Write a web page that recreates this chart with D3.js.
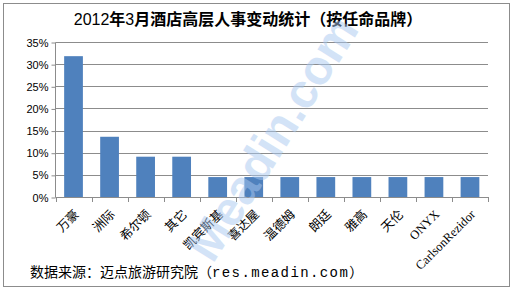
<!DOCTYPE html>
<html>
<head>
    <meta charset="utf-8">
    <title>2012年3月酒店高层人事变动统计</title>
    <script src="https://d3js.org/d3.v7.min.js"></script>
    <style>
        body { margin: 0; background: #fff; }
    </style>
</head>
<body>
    <div id="chart"></div>
    <script>
        // data
        var brands = ["万豪", "洲际", "希尔顿", "其它", "凯宾斯基", "喜达屋", "温德姆", "朗廷", "雅高", "天伦", "ONYX", "CarlsonRezidor"];
        var shares = [0.318, 0.136, 0.091, 0.091, 0.045, 0.045, 0.045, 0.045, 0.045, 0.045, 0.045, 0.045];
        var yTicks = [0, 0.05, 0.10, 0.15, 0.20, 0.25, 0.30, 0.35];

        var width = 514, height = 294;
        // note: "top" is reserved on window, so use plot* names
        var plotLeft = 55.5, plotRight = 488, plotTop = 42, plotBottom = 197;

        var svg = d3.select("#chart").append("svg")
            .attr("width", width)
            .attr("height", height);

        svg.append("rect")
            .attr("x", 3.5).attr("y", 3.5)
            .attr("width", 506).attr("height", 283)
            .attr("fill", "#fff")
            .attr("stroke", "#8c8c8c");

        var x = d3.scaleBand().domain(brands).range([plotLeft, plotRight]).paddingInner(0.48).paddingOuter(0.24);
        var y = d3.scaleLinear().domain([0, 0.35]).range([plotBottom, plotTop]);

        // title
        var title = svg.append("text")
            .attr("x", 248).attr("y", 25)
            .attr("text-anchor", "middle")
            .style("font-family", "'Noto Sans CJK SC', sans-serif")
            .style("font-size", "16px")
            .attr("fill", "#000");
        title.append("tspan").style("font-family", "Arial, 'Liberation Sans'").text("2012");
        title.append("tspan").style("font-weight", "bold").text("年");
        title.append("tspan").style("font-family", "Arial, 'Liberation Sans'").text("3");
        title.append("tspan").style("font-weight", "bold").text("月酒店高层人事变动统计（按任命品牌）");

        // gridlines
        svg.append("g")
            .selectAll("line")
            .data(yTicks.slice(1))
            .enter().append("line")
            .attr("x1", plotLeft).attr("x2", plotRight)
            .attr("y1", function(d) { return Math.round(y(d)) + 0.5; })
            .attr("y2", function(d) { return Math.round(y(d)) + 0.5; })
            .attr("stroke", "#8c8c8c");

        // bars
        svg.append("g")
            .selectAll("rect")
            .data(shares)
            .enter().append("rect")
            .attr("x", function(d, i) { return x(brands[i]); })
            .attr("y", function(d) { return y(d); })
            .attr("width", x.bandwidth())
            .attr("height", function(d) { return plotBottom - y(d); })
            .attr("fill", "#4f81bd");

        // y axis
        var yAxis = svg.append("g")
            .attr("transform", "translate(" + plotLeft + ",0.5)")
            .call(d3.axisLeft(y).tickValues(yTicks).tickFormat(d3.format(".0%")).tickSize(4).tickPadding(3));
        yAxis.select(".domain").attr("stroke", "#8c8c8c").attr("d", "M0," + plotTop + "V" + plotBottom);
        yAxis.selectAll(".tick line").attr("stroke", "#8c8c8c");
        yAxis.selectAll("text")
            .style("font-family", "Arial, 'Liberation Sans'")
            .style("font-size", "11px")
            .attr("fill", "#000");

        // x axis with ticks between categories
        var step = (plotRight - plotLeft) / brands.length;
        svg.append("line")
            .attr("x1", plotLeft).attr("x2", plotRight)
            .attr("y1", plotBottom + 0.5).attr("y2", plotBottom + 0.5)
            .attr("stroke", "#8c8c8c");
        svg.append("g")
            .selectAll("line")
            .data(d3.range(brands.length + 1))
            .enter().append("line")
            .attr("x1", function(i) { return Math.round(plotLeft + i * step) + 0.5; })
            .attr("x2", function(i) { return Math.round(plotLeft + i * step) + 0.5; })
            .attr("y1", plotBottom).attr("y2", plotBottom + 5)
            .attr("stroke", "#8c8c8c");

        svg.append("g")
            .selectAll("text")
            .data(brands)
            .enter().append("text")
            .attr("transform", function(d) {
                return "translate(" + (x(d) + x.bandwidth() / 2 + 3) + "," + (plotBottom + 15) + ") rotate(-45)";
            })
            .attr("text-anchor", "end")
            .attr("dy", "0.35em")
            .style("font-family", "'Liberation Serif', 'Noto Sans CJK SC', serif")
            .style("font-size", "12.5px")
            .attr("fill", "#000")
            .text(function(d) { return d; });

        // footer
        var foot = svg.append("text")
            .attr("x", 30).attr("y", 277)
            .style("font-family", "'Noto Sans CJK SC', sans-serif")
            .style("font-size", "14px")
            .attr("fill", "#000");
        foot.append("tspan").text("数据来源：迈点旅游研究院（");
        foot.append("tspan").style("font-family", "'Liberation Mono', monospace")
            .style("letter-spacing", "1.4px").text("res.meadin.com");
        foot.append("tspan").text("）");

        // watermark
        svg.append("text")
            .attr("transform", "translate(272,138) rotate(-58)")
            .attr("text-anchor", "middle")
            .attr("dy", "0.35em")
            .style("font-family", "Arial, 'Liberation Sans'")
            .style("font-weight", "bold")
            .style("font-size", "48px")
            .attr("fill", "#a9c8f0")
            .attr("opacity", 0.5)
            .text("Meadin.com");
    </script>
</body>
</html>
